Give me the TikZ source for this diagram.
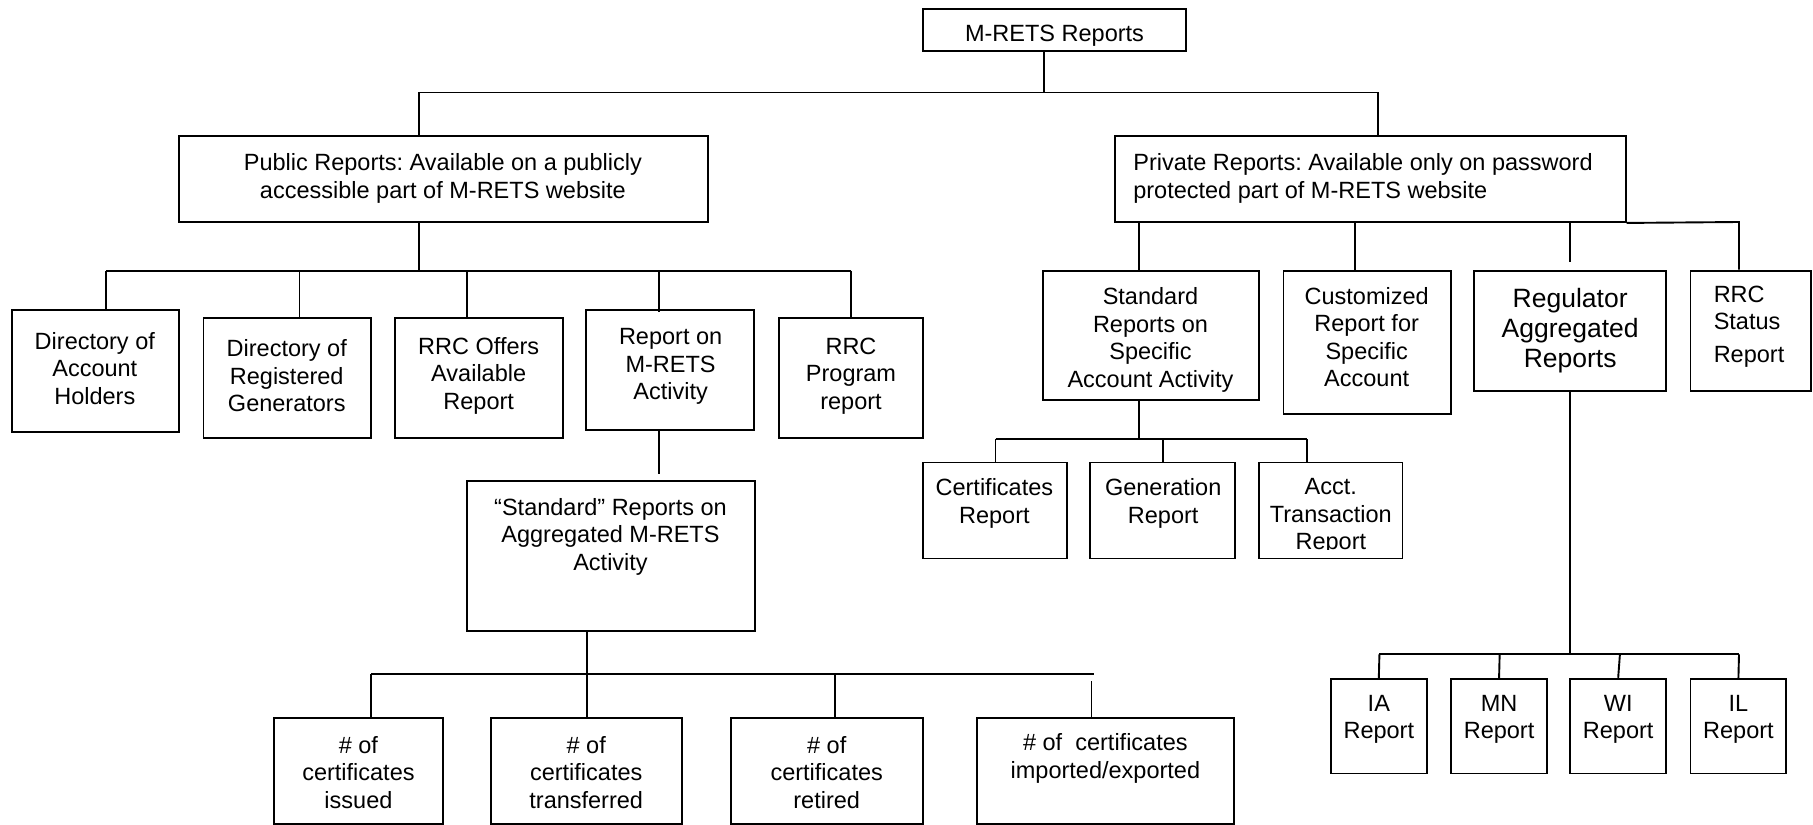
\documentclass[tikz,border=0pt]{standalone}
\usepackage{fontspec}
\setmainfont{Liberation Sans}
\usetikzlibrary{fit}
\frenchspacing
\tikzset{
  box/.style={draw, line width=1.9pt, inner sep=0pt},
  conn/.style={line width=1.9pt},
  txt/.style={align=center, inner sep=0pt, font=\fontsize{23.5}{27.5}\selectfont\frenchspacing},
  bigtxt/.style={align=center, inner sep=0pt, font=\fontsize{26.5}{30}\selectfont},
}
\begin{document}
\begin{tikzpicture}[x=1.1562pt, y=-1.1562pt]
\useasboundingbox (0,0) rectangle (1568,713);
\fill[white] (0,0) rectangle (1568,713);

% top
\node[box, fit={(798,8) (1026,44)}] (top) {};
\node[txt] (topt) at (912,31) {M-RETS Reports};

% public / private
\node[box, fit={(155,118) (612,192)}] (pub) {};
\node[txt] (pubt) at (383,154.5) {Public Reports: Available on a publicly\\accessible part of M-RETS website};
\node[box, fit={(964,118) (1406,192)}] (priv) {};
\node[txt, align=left, anchor=west] (privt) at (980,154.5) {Private Reports: Available only on password\\protected part of M-RETS website};

\coordinate (j1) at (903,80);
\draw[conn] (top.south -| j1) -- (j1);
\draw[conn] (pub.north -| 362,0) -- (362,80) -- (1192,80) -- (priv.north -| 1192,0);

% public children
\node[box, fit={(10,268) (155,374)}] (dah) {};
\node[txt] (daht) at (82,318.5) {Directory of\\Account\\Holders};
\node[box, fit={(176,275) (321,379)}] (drg) {};
\node[txt] (drgt) at (248,325) {Directory of\\Registered\\Generators};
\node[box, fit={(342,275) (487,379)}] (rrco) {};
\node[txt] (rrcot) at (414,325) {RRC Offers\\Available\\Report};
\node[box, fit={(507,268) (652,372)}] (rma) {};
\node[txt] (rmat) at (580,317) {Report on\\M-RETS\\Activity};
\node[box, fit={(674,275) (798,379)}] (rrcp) {};
\node[txt] (rrcpt) at (736,325) {RRC\\Program\\report};

\draw[conn] (pub.south -| 362,0) -- (362,234);
\draw[conn] (92,234) -- (736,234);
\draw[conn] (92,234) -- (dah.north -| 92,0);
\draw[conn] (259,234) -- (drg.north -| 259,0);
\draw[conn] (404,234) -- (rrco.north -| 404,0);
\draw[conn] (570,234) -- ([yshift=-3pt]rma.north -| 570,0);
\draw[conn] (736,234) -- (rrcp.north);

% standard aggregated
\node[box, fit={(404,416) (653,546)}] (std) {};
\node[txt] (stdt) at (528,464) {“Standard” Reports on\\Aggregated M-RETS\\Activity};
\draw[conn] (rma.south -| 570,0) -- (570,410);

\node[box, fit={(237,621) (383,713)}] (n1) {};
\node[txt] (n1t) at (310,668) {\# of\\certificates\\issued};
\node[box, fit={(425,621) (590,713)}] (n2) {};
\node[txt] (n2t) at (507,668) {\# of\\certificates\\transferred};
\node[box, fit={(632,621) (798,713)}] (n3) {};
\node[txt] (n3t) at (715,668) {\# of\\certificates\\retired};
\node[box, fit={(845,621) (1067,713)}] (n4) {};
\node[txt] (n4t) at (956,656) {\# of~ certificates\\imported/exported};

\draw[conn] (std.south -| 508,0) -- (508,583);
\draw[conn] (321,583) -- (946,583);
\draw[conn] (321,583) -- (n1.north -| 321,0);
\draw[conn] (508,583) -- (n2.north -| 508,0);
\draw[conn] (722,583) -- (n3.north -| 722,0);
\draw[conn] (944,589) -- (n4.north -| 944,0);

% private children
\node[box, fit={(902,234) (1089,346)}] (sra) {};
\node[txt] (srat) at (995,294) {Standard\\Reports on\\Specific\\Account Activity};
\node[box, fit={(1110,234) (1255,358)}] (cust) {};
\node[txt] (custt) at (1182,291.5) {Customized\\Report for\\Specific\\Account};
\node[box, fit={(1275,234) (1441,338)}] (reg) {};
\node[bigtxt] (regt) at (1358,286) {Regulator\\Aggregated\\Reports};
\node[box, fit={(1462,234) (1566,338)}] (rrcs) {};
\node[txt, align=left, anchor=north west] (rrcst) at (1482,247) {RRC\\Status\\[5pt]Report};

\draw[conn] (985,192) -- (sra.north -| 985,0);
\draw[conn] (1172,192) -- (cust.north -| 1172,0);
\draw[conn] (1358,192) -- (1358,227);
\draw[conn] (priv.south east) -- (1504,192) -- (rrcs.north -| 1504,0);

% specific account children
\node[box, fit={(798,400) (923,483)}] (cert) {};
\node[txt] (certt) at (860,435.5) {Certificates\\Report};
\node[box, fit={(943,400) (1068,483)}] (gen) {};
\node[txt] (gent) at (1006,435.5) {Generation\\Report};
\node[box, fit={(1089,400) (1213,483)}] (acct) {};
\begin{scope}
\clip (1089,400) rectangle (1213,475);
\node[txt] (acctt) at (1151,447) {Acct.\\Transaction\\Report};
\end{scope}

\draw[conn] (sra.south -| 985,0) -- (985,380);
\draw[conn] (861,380) -- (1130,380);
\draw[conn] (861,380) -- (cert.north -| 861,0);
\draw[conn] (1006,380) -- (gen.north -| 1006,0);
\draw[conn] (1130,380) -- (acct.north -| 1130,0);

% state reports
\node[box, fit={(1151,587) (1234,669)}] (ia) {};
\node[txt] (iat) at (1192.5,622) {IA\\Report};
\node[box, fit={(1255,587) (1338,669)}] (mn) {};
\node[txt] (mnt) at (1296.5,622) {MN\\Report};
\node[box, fit={(1358,587) (1441,669)}] (wi) {};
\node[txt] (wit) at (1399.5,622) {WI\\Report};
\node[box, fit={(1462,587) (1545,669)}] (il) {};
\node[txt] (ilt) at (1503.5,622) {IL\\Report};

\draw[conn] (reg.south) -- (1358,566);
\draw[conn] (1193,566) -- (1504,566);
\draw[conn] (1193,566) -- (ia.north);
\draw[conn] (1297,566) -- (mn.north);
\draw[conn] (1401,566) -- (wi.north);
\draw[conn] (1504,566) -- (il.north);
\end{tikzpicture}
\end{document}
